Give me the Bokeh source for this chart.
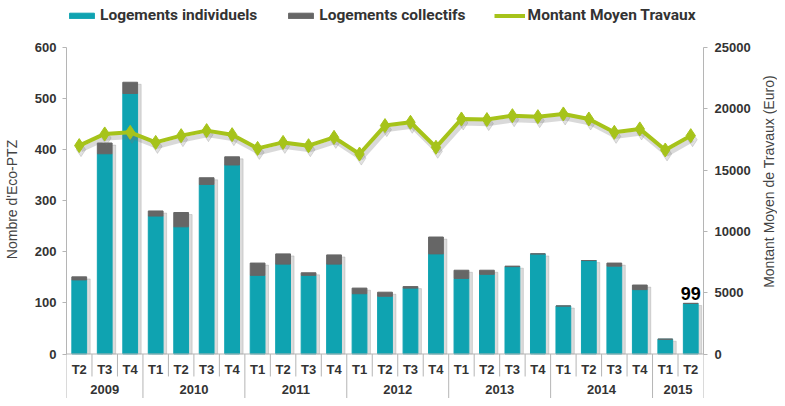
import numpy as np
from bokeh.plotting import figure
from bokeh.layouts import row
from bokeh.models import Range1d, LinearAxis, FixedTicker, Legend, LegendItem, Span
from bokeh.core.properties import value
from bokeh.embed import file_html
from bokeh.resources import INLINE

# ---- data ----
years = ["2009"] * 3 + ["2010"] * 4 + ["2011"] * 4 + ["2012"] * 4 + ["2013"] * 4 + ["2014"] * 4 + ["2015"] * 2
quarters = ["T2", "T3", "T4"] + ["T1", "T2", "T3", "T4"] * 5 + ["T1", "T2"]
individuels = [145, 392, 510, 270, 249, 332, 370, 154, 176, 154, 176, 118, 113,
               129, 196, 148, 156, 171, 196, 94, 183, 172, 126, 29, 99]
collectifs = [6, 21, 22, 10, 28, 13, 16, 24, 20, 5, 18, 11, 8,
              3, 33, 16, 8, 1, 0, 0, 0, 6, 9, 0, 0]
montant = [17000, 17950, 18080, 17260, 17810, 18220, 17890, 16770, 17260, 16990, 17670, 16310, 18630,
           18900, 16860, 19170, 19120, 19440, 19360, 19580, 19170, 18080, 18360, 16640, 17810]
left_ticks = [0, 100, 200, 300, 400, 500, 600]
right_ticks = [0, 5000, 10000, 15000, 20000, 25000]
last_label = "99"
right_title = "Montant Moyen de Travaux (Euro)"

TEAL = "#0fa3b1"
GRAY = "#666666"
GREEN = "#a6c31a"
AXIS = "#b5b5b5"
TXT = "#333333"

n = len(quarters)
x = np.arange(n) + 0.5
ind = np.array(individuels)
tot = ind + np.array(collectifs)

H = 398
Y0, Y1 = -87.1, 692.0
R = 25000 / 600.0

p = figure(width=759, height=H, output_backend="svg", toolbar_location=None,
           x_range=Range1d(0, n), y_range=Range1d(Y0, Y1),
           x_axis_location=None,
           min_border_left=64, min_border_right=56, min_border_top=0, min_border_bottom=0)
p.extra_y_ranges = {"eur": Range1d(Y0 * R, Y1 * R)}
p.grid.visible = False
p.outline_line_color = None

def style_axis(ax):
    ax.axis_line_color = AXIS
    ax.major_tick_line_color = AXIS
    ax.minor_tick_line_color = None
    ax.major_tick_out = 4
    ax.major_tick_in = 0
    ax.major_label_standoff = 6
    ax.major_label_text_font = "Liberation Sans"
    ax.major_label_text_font_style = "bold"
    ax.major_label_text_font_size = "13px"
    ax.major_label_text_color = TXT
    ax.axis_label_text_font = "Liberation Sans"
    ax.axis_label_text_font_style = "normal"
    ax.axis_label_text_font_size = "14px"
    ax.axis_label_text_color = "#444444"

ly = p.yaxis[0]
ly.bounds = (0, 600)
ly.ticker = FixedTicker(ticks=left_ticks)
ly.axis_label = "Nombre d'Eco-PTZ"
style_axis(ly)
ly.axis_label_standoff = 12

ry = LinearAxis(y_range_name="eur", bounds=(0, 25000), ticker=FixedTicker(ticks=right_ticks))
style_axis(ry)
ry.major_label_standoff = 7
p.add_layout(ry, "right")

# category separators
year_b = [0] + [i for i in range(1, n) if years[i] != years[i - 1]] + [n]
quarter_b = [i for i in range(1, n) if i not in year_b]
p.segment(x0=year_b, y0=0, x1=year_b, y1=Y0, line_color=AXIS, line_width=1)
p.segment(x0=quarter_b, y0=0, x1=quarter_b, y1=-44, line_color=AXIS, line_width=1)
p.add_layout(Span(location=0, dimension="width", line_color=AXIS, line_width=1))

p.text(x=x, y=-30.3, text=quarters, text_align="center", text_baseline="middle",
       text_font=value("Liberation Sans"), text_font_style="bold", text_font_size="13px", text_color=TXT)
uy = sorted(set(years))
ycent = [np.mean([x[i] for i in range(n) if years[i] == yy]) for yy in uy]
p.text(x=ycent, y=-69.5, text=uy, text_align="center", text_baseline="middle",
       text_font=value("Liberation Sans"), text_font_style="bold", text_font_size="13px", text_color=TXT)

# bars (with soft shadow)
p.vbar(x=x + 0.14, width=0.58, bottom=0, top=tot - 4, color="#8a8a8a", alpha=0.3)
r_ind = p.vbar(x=x, width=0.58, bottom=0, top=ind, color=TEAL)
r_col = p.vbar(x=x, width=0.58, bottom=ind, top=tot, color=GRAY)

# line (with soft shadow)
mt = np.array(montant)
p.line(x + 0.07, mt - 330, y_range_name="eur", line_color="#777777", line_alpha=0.28, line_width=5)
p.scatter(x + 0.07, mt - 330, y_range_name="eur", marker="diamond", size=14, color="#777777", alpha=0.22)
r_line = p.line(x, mt, y_range_name="eur", line_color=GREEN, line_width=4)
r_pts = p.scatter(x, mt, y_range_name="eur", marker="diamond", size=14, color=GREEN)

p.text(x=[x[-1]], y=[tot[-1]], text=[last_label], text_align="center", text_baseline="bottom",
       y_offset=-3, text_font=value("Liberation Sans"), text_font_style="bold",
       text_font_size="18px", text_color="black")

legend = Legend(items=[LegendItem(label="Logements individuels", renderers=[r_ind]),
                       LegendItem(label="Logements collectifs", renderers=[r_col]),
                       LegendItem(label="Montant Moyen Travaux", renderers=[r_line, r_pts])],
                orientation="horizontal", location=(0, 374), border_line_color=None,
                background_fill_alpha=0, padding=0, margin=0, spacing=28, label_standoff=3,
                glyph_width=31, glyph_height=7, label_height=7,
                label_text_font="Roboto", label_text_font_style="bold",
                label_text_font_size="15.5px", label_text_color=TXT)
p.add_layout(legend)

# right-hand axis title (bottom-to-top), in a narrow companion panel
t = figure(width=18, height=H, output_backend="svg", toolbar_location=None,
           x_range=Range1d(0, 1), y_range=Range1d(0, H),
           x_axis_location=None, y_axis_location=None,
           min_border_left=0, min_border_right=0, min_border_top=0, min_border_bottom=0)
t.grid.visible = False
t.outline_line_color = None
t.text(x=[0.5], y=[H - 181], text=[right_title], angle=np.pi / 2,
       text_align="center", text_baseline="middle",
       text_font=value("Liberation Sans"), text_font_size="14px", text_color="#444444")

layout = row(p, t, spacing=0)
open("out.html", "w").write(file_html(layout, INLINE))
